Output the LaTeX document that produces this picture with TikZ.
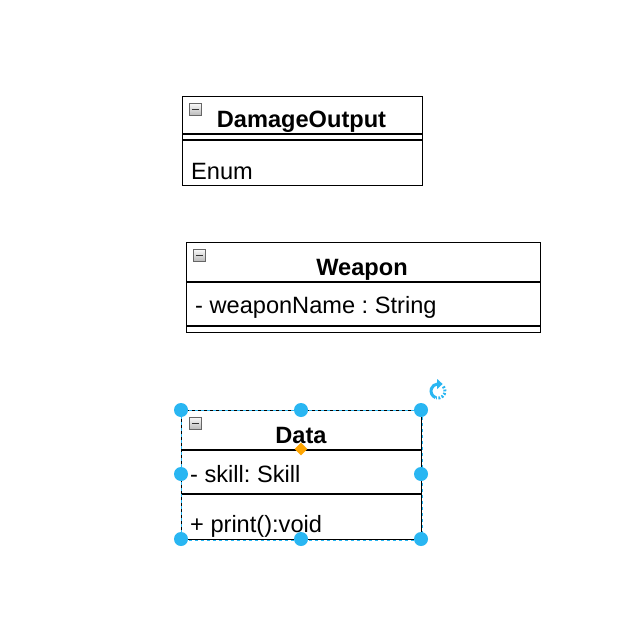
\documentclass[tikz,border=0pt]{standalone}
\usepackage{fontspec}
\setmainfont{Liberation Sans}
\usetikzlibrary{shapes.geometric,arrows.meta}
\definecolor{handle}{HTML}{29B6F2}
\definecolor{diam}{HTML}{FFA500}
\tikzset{
  box/.style={draw=black, line width=1.2pt, fill=white, inner sep=0pt, anchor=north west},
  divider/.style={draw=black, line width=1.2pt},
  title/.style={font=\fontsize{23.6}{27}\selectfont\bfseries, anchor=base, inner sep=0pt},
  attr/.style={font=\fontsize{23.6}{27}\selectfont\frenchspacing, anchor=base west, inner sep=0pt},
  handlept/.style={circle, fill=handle, minimum size=14pt, inner sep=0pt},
  collapse/.style={rectangle, draw=gray!80!black, line width=0.6pt, top color=gray!5, bottom color=gray!55,
    minimum size=12pt, inner sep=0pt,
    path picture={\draw[line width=1.6pt, black!80] ([xshift=-3.6pt]path picture bounding box.center) -- ([xshift=3.6pt]path picture bounding box.center);}},
  selbox/.style={draw=handle, line width=1pt, dash pattern=on 3pt off 3pt},
  rotarrow/.style={draw=handle, line width=3pt}
}
\begin{document}
\begin{tikzpicture}[x=1pt,y=-1pt]
\useasboundingbox[fill=white] (0,0) rectangle (618,631);

% DamageOutput
\node[box, minimum width=240pt, minimum height=89pt] (dmg) at (182,96) {};
\draw[divider] (182,134) -- (422,134);
\draw[divider] (182,140) -- (422,140);
\node[collapse] (dmgc) at (195.5,109.5) {};
\node[title] (dmgt) at (301.5,128) {DamageOutput};
\node[attr] (dmga) at (191,179) {Enum};

% Weapon
\node[box, minimum width=354pt, minimum height=90pt] (wpn) at (186,242) {};
\draw[divider] (186,282) -- (540,282);
\draw[divider] (186,326) -- (540,326);
\node[collapse] (wpnc) at (199.5,255.5) {};
\node[title] (wpnt) at (362,275) {Weapon};
\node[attr] (wpna) at (195,313) {- weaponName : String};

% Data
\node[box, minimum width=240pt, minimum height=129pt] (dat) at (181,410) {};
\draw[divider] (181,450) -- (421,450);
\draw[divider] (181,494) -- (421,494);
\node[collapse] (datc) at (195.5,423.5) {};
\node[title] (datt) at (301,443) {Data};
\node[attr] (data1) at (190,482) {- skill: Skill};
\node[attr] (data2) at (190,532) {+ print():void};

% selection
\draw[selbox] (dat.north west) rectangle (dat.south east);
\node[diamond, fill=diam, minimum size=13pt, inner sep=0pt] (dia) at (301,449) {};
\foreach \p/\n in {{(181,410)}/h1,{(301,410)}/h2,{(421,410)}/h3,{(181,474)}/h4,{(421,474)}/h5,{(181,539)}/h6,{(301,539)}/h7,{(421,539)}/h8}
  \node[handlept] (\n) at \p {};

% rotate icon
\begin{scope}[shift={(438,391)}, y=1pt]
  \draw[rotarrow] (250:7) arc[start angle=250, end angle=95, radius=7];
  \fill[handle] (-0.8,12) -- (4.6,7) -- (-0.8,2) -- cycle;
  \draw[rotarrow, dash pattern=on 1.8pt off 1.6pt] (40:7) arc[start angle=40, end angle=-105, radius=7];
\end{scope}
\end{tikzpicture}
\end{document}
